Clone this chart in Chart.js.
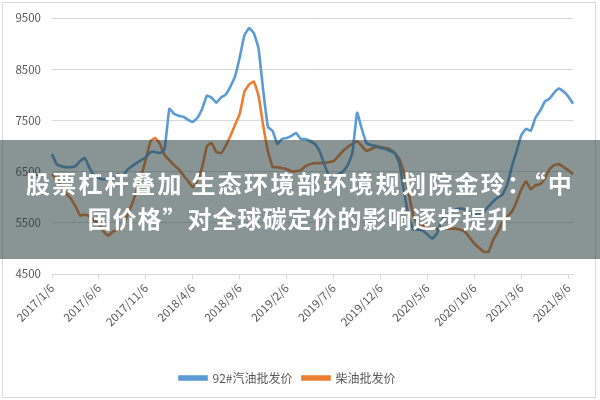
<!DOCTYPE html>
<html>
<head>
<meta charset="utf-8">
<script src="https://cdn.jsdelivr.net/npm/chart.js@4"></script>
<style>
body{margin:0;background:#fff;}
#wrap{position:relative;width:600px;height:400px;overflow:hidden;}
#frame{position:absolute;left:2px;top:2px;width:592px;height:394px;border:1px solid #d9d9d9;}
#banner{position:absolute;left:0;top:140px;width:600px;height:119px;background:rgba(40,60,60,0.55);
  color:#fff;font-family:"Noto Sans CJK SC",sans-serif;font-weight:bold;font-size:24px;line-height:35px;
  text-align:center;padding-top:25px;box-sizing:border-box;letter-spacing:1px;}
#banner .l1{letter-spacing:2.3px;}
</style>
</head>
<body>
<div id="wrap">
<div id="frame"></div>
<canvas id="grafica" width="600" height="400"></canvas>
<div id="banner"><span class="l1">股票杠杆叠加 生态环境部环境规划院金玲：“中</span><br>国价格”对全球碳定价的影响逐步提升</div>
</div>
<script>
// fechas cada medio mes
const fechas=[
'2017/1/6','2017/1/21','2017/2/6','2017/2/21','2017/3/6','2017/3/21','2017/4/6','2017/4/21','2017/5/6','2017/5/21','2017/6/6','2017/6/21',
'2017/7/6','2017/7/21','2017/8/6','2017/8/21','2017/9/6','2017/9/21','2017/10/6','2017/10/21','2017/11/6','2017/11/21','2017/12/6','2017/12/21',
'2018/1/6','2018/1/21','2018/2/6','2018/2/21','2018/3/6','2018/3/21','2018/4/6','2018/4/21','2018/5/6','2018/5/21','2018/6/6','2018/6/21',
'2018/7/6','2018/7/21','2018/8/6','2018/8/21','2018/9/6','2018/9/21','2018/10/6','2018/10/21','2018/11/6','2018/11/21','2018/12/6','2018/12/21',
'2019/1/6','2019/1/21','2019/2/6','2019/2/21','2019/3/6','2019/3/21','2019/4/6','2019/4/21','2019/5/6','2019/5/21','2019/6/6','2019/6/21',
'2019/7/6','2019/7/21','2019/8/6','2019/8/21','2019/9/6','2019/9/21','2019/10/6','2019/10/21','2019/11/6','2019/11/21','2019/12/6','2019/12/21',
'2020/1/6','2020/1/21','2020/2/6','2020/2/21','2020/3/6','2020/3/21','2020/4/6','2020/4/21','2020/5/6','2020/5/21','2020/6/6','2020/6/21',
'2020/7/6','2020/7/21','2020/8/6','2020/8/21','2020/9/6','2020/9/21','2020/10/6','2020/10/21','2020/11/6','2020/11/21','2020/12/6','2020/12/21',
'2021/1/6','2021/1/21','2021/2/6','2021/2/21','2021/3/6','2021/3/21','2021/4/6','2021/4/21','2021/5/6','2021/5/21','2021/6/6','2021/6/21',
'2021/7/6','2021/7/21','2021/8/6','2021/8/21'
];

const gasolina=[
6843,6646,6606,6587,6587,6606,6705,6764,6567,6430,6370,6350,
6350,6350,6449,6409,6527,6606,6665,6724,6783,6882,6882,6862,
6941,7728,7630,7590,7571,7512,7472,7551,7728,7984,7945,7846,
7945,8004,8161,8358,8732,9165,9303,9205,8910,8083,7374,7295,
7039,7138,7157,7197,7256,7138,7138,7098,7039,6902,6646,6430,
6409,6449,6508,6626,6862,7650,7335,7059,7020,7000,6961,6941,
6902,6862,6665,6114,5622,5366,5366,5346,5268,5189,5287,5524,
5642,5700,5760,5779,5760,5700,5661,5681,5720,5819,5917,5996,
6055,6252,6606,6902,7216,7335,7295,7551,7689,7866,7925,8043,
8122,8063,7965,7827
];

const diesel=[
6449,6350,6213,6075,5976,5819,5642,5661,5622,5543,5484,5327,
5248,5327,5366,5406,5642,5858,6114,6409,6744,7098,7157,7039,
6823,6724,6626,6547,6430,6311,6193,6331,6587,7000,7059,6882,
6862,7000,7197,7413,7630,8063,8201,8260,7984,7394,6902,6587,
6587,6567,6547,6508,6508,6527,6606,6646,6665,6665,6665,6685,
6705,6803,6902,6980,7039,7098,7000,6902,6941,6980,6980,6961,
6941,6862,6744,6468,6075,5622,5484,5445,5406,5386,5386,5386,
5386,5386,5386,5366,5327,5209,5091,5012,4933,4933,5169,5327,
5524,5622,5720,5917,6154,6311,6154,6232,6252,6370,6547,6626,
6646,6587,6527,6449
];

const etiquetas=['2017/1/6','2017/6/6','2017/11/6','2018/4/6','2018/9/6','2019/2/6',
'2019/7/6','2019/12/6','2020/5/6','2020/10/6','2021/3/6','2021/8/6'];

const ctx=document.getElementById("grafica");
const fuente='"Noto Sans CJK SC", sans-serif';

new Chart(ctx,{
    type:'line',
    data:{
        labels:fechas,
        datasets:[{
            label:'92#汽油批发价',
            data:gasolina,
            borderColor:'#5b9bd5',
            backgroundColor:'#5b9bd5',
            borderWidth:2.6,
            pointRadius:0,
            tension:0.1
        },{
            label:'柴油批发价',
            data:diesel,
            borderColor:'#ed7d31',
            backgroundColor:'#ed7d31',
            borderWidth:2.6,
            pointRadius:0,
            tension:0.1
        }]
    },
    options:{
        responsive:false,
        animation:false,
        layout:{padding:{left:2,right:27,top:18,bottom:6}},
        plugins:{
            tooltip:{enabled:false},
            legend:{
                position:'bottom',
                labels:{boxWidth:27,boxHeight:3,color:'#595959',font:{family:fuente,size:12},padding:10}
            }
        },
        scales:{
            x:{
                grid:{display:true,drawOnChartArea:false,color:'#d9d9d9',tickLength:5},
                border:{color:'#d9d9d9'},
                afterBuildTicks:s=>{
                    s.ticks=s.ticks.filter(t=>etiquetas.includes(fechas[t.value]));
                },
                afterFit:s=>{s.height=88;},
                ticks:{
                    autoSkip:false,minRotation:45,maxRotation:45,
                    color:'#595959',font:{family:fuente,size:11.5},padding:2,
                    callback:function(v){return fechas[v];}
                }
            },
            y:{
                min:4500,max:9500,
                grid:{color:'#d9d9d9',drawTicks:false},
                border:{display:false},
                afterFit:s=>{s.width=50;},
                ticks:{stepSize:1000,color:'#595959',font:{family:fuente,size:11.5},padding:11,
                    callback:v=>String(v)}
            }
        }
    }
});
</script>
</body>
</html>
